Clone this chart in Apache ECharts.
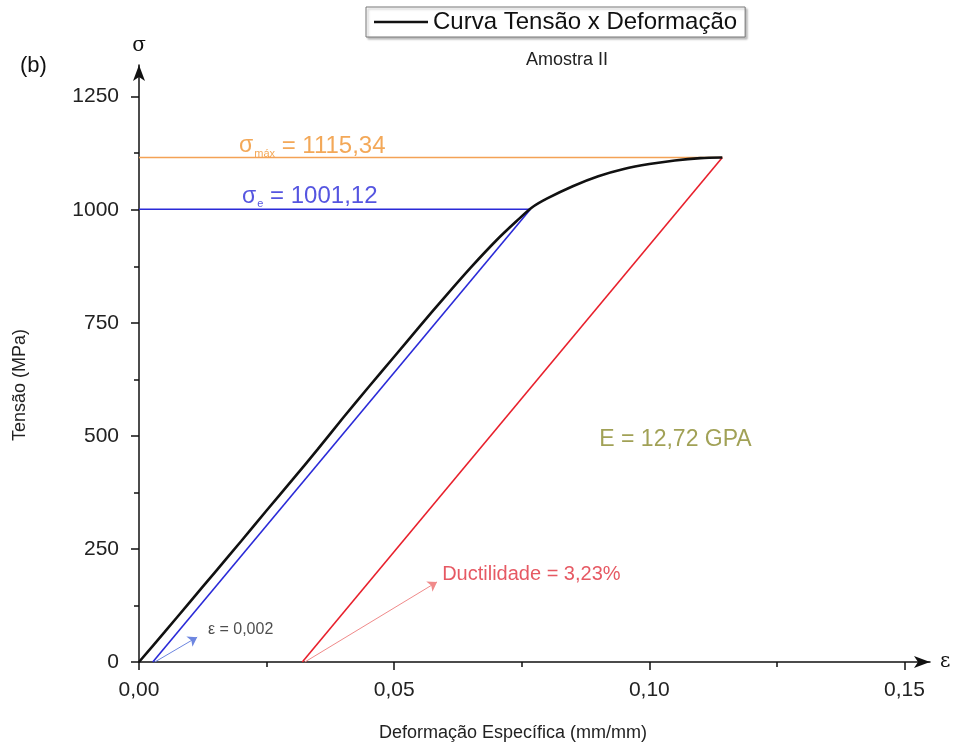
<!DOCTYPE html>
<html><head><meta charset="utf-8">
<script src="https://cdn.jsdelivr.net/npm/echarts@6/dist/echarts.min.js"></script>
<style>html,body{margin:0;padding:0;background:#fff}#c{width:960px;height:748px}</style>
</head><body><div id="c"></div>
<script>
// ---- data ----
const curveStrain = [0,0.005,0.01,0.015,0.02,0.025,0.03,0.035,0.04,0.045,0.05,0.055,0.06,0.065,0.07,0.074,0.077,0.080,0.085,0.09,0.095,0.10,0.105,0.11,0.1143];
const curveStress = [0,66,133,200,267,335,402,470,540,608,675,742,808,872,932,975,1005,1025,1052,1074,1090,1101,1109,1114,1115.34];
const offsetLine = [[0.0027,0],[0.0767,1001.12]];     // blue 0,2% offset line
const elasticLine = [[0.032,0],[0.1143,1115.34]];     // red unloading line
const sigmaMax = 1115.34, sigmaE = 1001.12;
const xMajor = [0,0.05,0.10,0.15];
const xMinor = [0.025,0.075,0.125];
const yMajor = [0,250,500,750,1000,1250];
const yMinor = [125,375,625,875,1125];
const FONT = "'Liberation Sans', Arial, sans-serif";

const chart = echarts.init(document.getElementById('c'), null, {renderer:'canvas'});
const curve = curveStrain.map((x,i)=>[x,curveStress[i]]);

const axisBaseX = {type:'value', min:0, max:0.155, splitLine:{show:false}};
const axisBaseY = {type:'value', min:0, max:1320, splitLine:{show:false}};

chart.setOption({
  animation:false,
  backgroundColor:'#fff',
  title:{text:'Amostra II', left:521, top:46, textStyle:{fontFamily:FONT, fontSize:18, fontWeight:'normal', color:'#222'}},
  legend:{data:['Curva Tensão x Deformação'], left:366, top:7, padding:[3,8,3,8], icon:'rect', itemWidth:54, itemHeight:2.5, itemGap:4,
    borderColor:'#777', borderWidth:1, shadowColor:'rgba(0,0,0,0.25)', shadowOffsetX:2, shadowOffsetY:2, shadowBlur:2, backgroundColor:'#fff',
    textStyle:{fontFamily:FONT, fontSize:24, color:'#111', padding:[0,0,0,0]}},
  grid:{left:139, right:30, top:65, bottom:86, containLabel:false},
  xAxis:[
    Object.assign({}, axisBaseX, {
      name:'ε', nameLocation:'end', nameGap:10, nameTextStyle:{fontFamily:'DejaVu Serif, serif', fontSize:20, color:'#111', verticalAlign:'middle', padding:[14,0,0,0]},
      axisLine:{lineStyle:{color:'#111', width:1.5}, symbol:['none','arrow'], symbolSize:[9,16]},
      axisTick:{show:true, inside:false, length:8, lineStyle:{color:'#111', width:1.5}, customValues:xMajor},
      axisLabel:{margin:18, fontFamily:FONT, fontSize:21, color:'#222', customValues:xMajor, formatter:v=>v.toFixed(2).replace('.',',')}
    }),
    Object.assign({}, axisBaseX, {
      position:'bottom',
      axisLine:{show:false}, axisLabel:{show:false},
      axisTick:{show:true, length:5, lineStyle:{color:'#111', width:1.5}, customValues:xMinor}
    })
  ],
  yAxis:[
    Object.assign({}, axisBaseY, {
      name:'σ', nameLocation:'end', nameGap:9, nameTextStyle:{fontFamily:'DejaVu Serif, serif', fontSize:20, color:'#111', align:'center'},
      axisLine:{lineStyle:{color:'#111', width:1.5}, symbol:['none','arrow'], symbolSize:[9,16]},
      axisTick:{show:true, inside:false, length:8, lineStyle:{color:'#111', width:1.5}, customValues:yMajor},
      axisLabel:{margin:20, fontFamily:FONT, fontSize:21, color:'#222', customValues:yMajor, formatter:v=>String(v)}
    }),
    Object.assign({}, axisBaseY, {
      position:'left',
      axisLine:{show:false}, axisLabel:{show:false},
      axisTick:{show:true, length:5, lineStyle:{color:'#111', width:1.5}, customValues:yMinor}
    })
  ],
  graphic:[
    {type:'text', left:20, top:55, style:{text:'(b)', fontFamily:FONT, fontSize:22, fill:'#111'}},
    {type:'text', x:20, y:385, rotation:Math.PI/2, style:{text:'Tensão (MPa)', fontFamily:FONT, fontSize:18, fill:'#222', align:'center', verticalAlign:'middle'}},
    {type:'text', x:513, y:733, style:{text:'Deformação Específica (mm/mm)', fontFamily:FONT, fontSize:18, fill:'#222', align:'center', verticalAlign:'middle'}}
  ],
  series:[
    {name:'σmax line', type:'line', data:[[0,sigmaMax],[elasticLine[1][0],sigmaMax]], showSymbol:false, symbol:'none', lineStyle:{color:'#f4a256', width:1.5}, z:2},
    {name:'σe line', type:'line', data:[[0,sigmaE],[offsetLine[1][0],sigmaE]], showSymbol:false, symbol:'none', lineStyle:{color:'#2a2ad8', width:1.5}, z:2},
    {name:'offset', type:'line', data:offsetLine, showSymbol:false, symbol:'none', lineStyle:{color:'#2a2ad8', width:1.6}, z:3},
    {name:'elastic', type:'line', data:elasticLine, showSymbol:false, symbol:'none', lineStyle:{color:'#e8202c', width:1.6}, z:3},
    {name:'Curva Tensão x Deformação', type:'line', data:curve, showSymbol:false, symbol:'none', smooth:0.3, itemStyle:{color:'#111'}, lineStyle:{color:'#111', width:2.6}, z:5},
    {name:'arrows', type:'line', data:[], markLine:{silent:true, symbol:['none','arrow'], symbolSize:9, label:{show:false},
      data:[
        [{coord:[0.0031,0], lineStyle:{color:'#6d86e0', width:1, type:'solid'}, itemStyle:{color:'#2233cc'}},{coord:[0.0114,55]}],
        [{coord:[0.0325,0], lineStyle:{color:'#f08a8a', width:1, type:'solid'}, itemStyle:{color:'#d8202c'}},{coord:[0.0584,177]}]
      ]}},
    {name:'labels', type:'scatter', symbolSize:0, z:6,
      label:{show:true, position:'right', distance:0},
      data:[
        {value:[0.0196,1141], label:{formatter:'{s|σ}{b|máx}{t| = 1115,34}', color:'#f0922e',
          rich:{s:{fontSize:23, fontFamily:FONT, color:'#f0922e'}, b:{fontSize:11, fontFamily:FONT, color:'#f0922e', padding:[16,0,0,1]}, t:{fontSize:24, fontFamily:FONT, color:'#f0922e'}}}},
        {value:[0.0202,1030], label:{formatter:'{s|σ}{b|e}{t| = 1001,12}', color:'#2a2ad8',
          rich:{s:{fontSize:23, fontFamily:FONT, color:'#2a2ad8'}, b:{fontSize:11, fontFamily:FONT, color:'#2a2ad8', padding:[16,0,0,1]}, t:{fontSize:24, fontFamily:FONT, color:'#2a2ad8'}}}},
        {value:[0.0135,71], label:{formatter:'ε = 0,002', fontSize:16, fontFamily:FONT, color:'#222'}},
        {value:[0.0594,193], label:{formatter:'Ductilidade = 3,23%', fontSize:20, fontFamily:FONT, color:'#e0303c'}},
        {value:[0.0902,492], label:{formatter:'E = 12,72 GPA', fontSize:23, fontFamily:FONT, color:'#8a8a2c'}}
      ]}
  ]
});
</script></body></html>
